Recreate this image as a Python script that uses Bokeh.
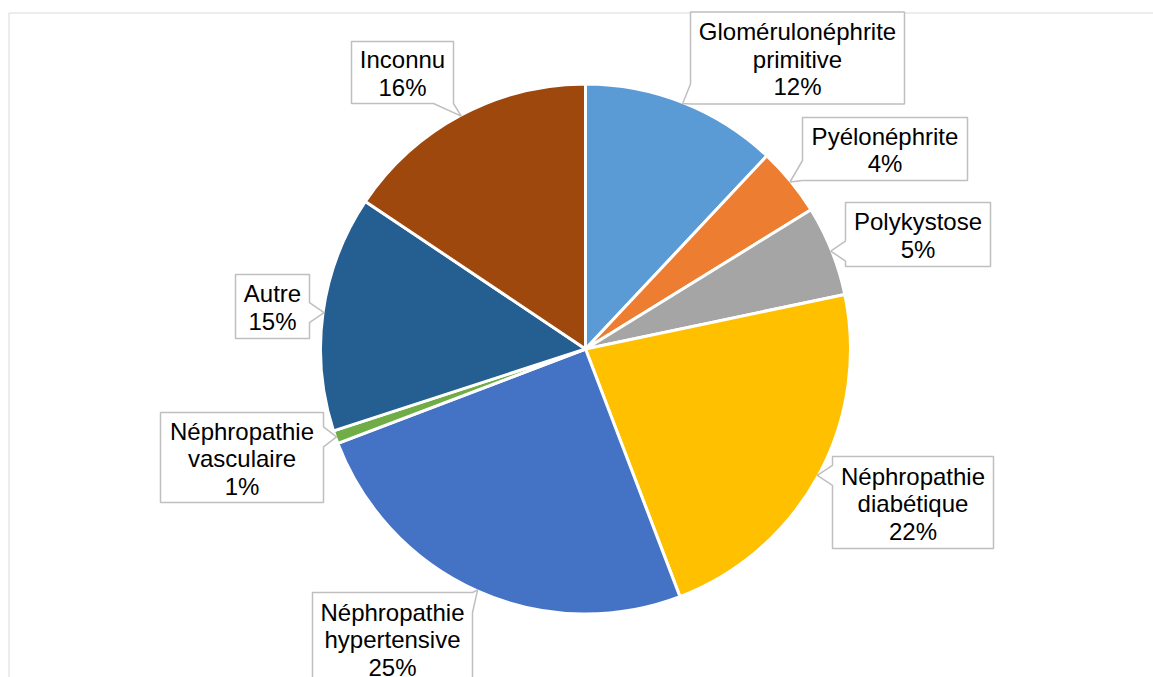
import math
from bokeh.plotting import figure
from bokeh.models import Range1d, ColumnDataSource
from bokeh.core.properties import value
from bokeh.embed import file_html
from bokeh.resources import INLINE

# ---------------- data ----------------
categories = ["Glomérulonéphrite primitive", "Pyélonéphrite", "Polykystose",
              "Néphropathie diabétique", "Néphropathie hypertensive",
              "Néphropathie vasculaire", "Autre", "Inconnu"]
values = [12.0, 4.2, 5.5, 22.5, 25.0, 0.8, 14.4, 15.6]
percent_labels = ["12%", "4%", "5%", "22%", "25%", "1%", "15%", "16%"]
name_lines = [["Glomérulonéphrite", "primitive"], ["Pyélonéphrite"], ["Polykystose"],
              ["Néphropathie", "diabétique"], ["Néphropathie", "hypertensive"],
              ["Néphropathie", "vasculaire"], ["Autre"], ["Inconnu"]]
colors = ["#5B9BD5", "#ED7D31", "#A5A5A5", "#FFC000", "#4472C4", "#70AD47", "#255E91", "#9E480E"]

# ---------------- layout (page pixels) ----------------
W, H = 1153, 677
OX, OY = 0, 0            # page offset of the canvas
CX, CY, R = 585, 348.5, 265
# label box centres and sizes (page px)
box_centres = [(797, 57.5), (884.5, 148.5), (917.5, 234), (912.5, 502),
               (392, 638), (241.5, 457), (272, 306), (402, 72)]
box_sizes = [(214, 92), (165, 63), (145, 64), (161, 92),
             (160, 92), (163, 90), (74, 64), (102, 62)]
LINE_STEP = 27.5
FONT = value("Liberation Sans")


def dx(px):
    return px - OX


def dy(py):
    return (OY + H) - py


p = figure(width=W, height=H, output_backend="svg", toolbar_location=None,
           x_range=Range1d(0, W), y_range=Range1d(0, H), min_border=0)
p.axis.visible = False
p.grid.visible = False
p.outline_line_color = None
p.background_fill_color = "white"
p.border_fill_color = "white"

# chart frame (clipped by window on right/bottom, as in reference)
p.segment(x0=[dx(8.5), dx(8.5)], y0=[dy(12.5), dy(12.5)],
          x1=[dx(8.5), W + 5], y1=[-5, dy(12.5)],
          line_color="#D9D9D9", line_width=1)

# pie wedges (clockwise from 12 o'clock)
total = sum(values)
cum = [0.0]
for v in values:
    cum.append(cum[-1] + v / total)
starts = [math.pi / 2 - 2 * math.pi * c for c in cum[:-1]]
ends = [math.pi / 2 - 2 * math.pi * c for c in cum[1:]]
src = ColumnDataSource(dict(start=starts, end=ends, color=colors, cat=categories))
p.wedge(x=dx(CX), y=dy(CY), radius=R, start_angle="start", end_angle="end",
        direction="clock", fill_color="color", line_color="white", line_width=3,
        source=src)

# callouts
xs, ys = [], []
tx, ty, tt = [], [], []
for i in range(len(values)):
    mid = 2 * math.pi * (cum[i] + cum[i + 1]) / 2
    tipx = CX + (R - 1) * math.sin(mid)
    tipy = CY - (R - 1) * math.cos(mid)
    bcx, bcy = box_centres[i]
    bw, bh = box_sizes[i]
    l, r, t, b = bcx - bw / 2, bcx + bw / 2, bcy - bh / 2, bcy + bh / 2
    nx = (tipx - bcx) / (bw / 2)
    ny = (tipy - bcy) / (bh / 2)
    hw = 10
    if abs(nx) >= abs(ny):
        side = "right" if nx > 0 else "left"
        c = min(max(tipy, t + hw), b - hw)
        b0, b1 = c - hw, c + hw
    else:
        side = "bottom" if ny > 0 else "top"
        c = min(max(tipx, l + hw), r - hw)
        b0, b1 = c - hw, c + hw
    if side == "top":
        pts = [(l, t), (b0, t), (tipx, tipy), (b1, t), (r, t), (r, b), (l, b)]
    elif side == "right":
        pts = [(l, t), (r, t), (r, b0), (tipx, tipy), (r, b1), (r, b), (l, b)]
    elif side == "bottom":
        pts = [(l, t), (r, t), (r, b), (b1, b), (tipx, tipy), (b0, b), (l, b)]
    else:
        pts = [(l, t), (r, t), (r, b), (l, b), (l, b1), (tipx, tipy), (l, b0)]
    xs.append([dx(x) for x, _ in pts])
    ys.append([dy(y) for _, y in pts])
    lines = name_lines[i] + [percent_labels[i]]
    n = len(lines)
    for k, s in enumerate(lines):
        tx.append(dx(bcx))
        ty.append(dy(bcy + 1 + (k - (n - 1) / 2) * LINE_STEP))
        tt.append(s)

p.patches(xs=xs, ys=ys, fill_color="white", line_color="#BFBFBF", line_width=1.5)
p.text(x=tx, y=ty, text=tt, text_font=FONT, text_font_size="24px",
       text_align="center", text_baseline="middle", text_color="#000000")

open("out.html", "w").write(file_html(p, INLINE))
